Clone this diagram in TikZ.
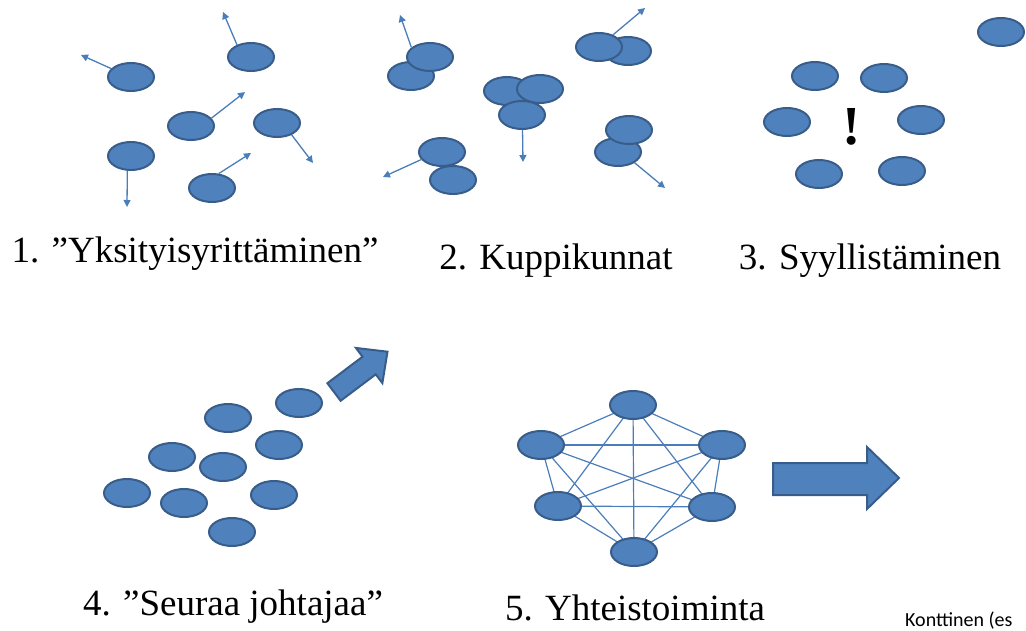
\documentclass[tikz,border=0pt]{standalone}
\usepackage{fontspec}
\IfFontExistsTF{LiberationSerif-Regular.ttf}
  {\newfontfamily\capfont{LiberationSerif-Regular.ttf}[BoldFont=LiberationSerif-Bold.ttf]}
  {\newfontfamily\capfont{Latin Modern Roman}}
\newfontfamily\notefont{Carlito}
\usetikzlibrary{arrows.meta,shapes.geometric,backgrounds}
\definecolor{blobfill}{HTML}{4F81BD}
\definecolor{blobline}{HTML}{385D8A}
\definecolor{wire}{HTML}{4A7EBB}
\tikzset{
  blob/.style={ellipse, draw=blobline, fill=blobfill, line width=2pt,
    minimum width=46pt, minimum height=28pt, inner sep=0pt},
  move/.style={draw=wire, line width=1.3pt, -{Triangle[length=7pt,width=7pt]}},
  link/.style={draw=wire, line width=1.2pt},
  caption/.style={anchor=base, inner sep=0pt, font=\capfont\fontsize{37}{44}\selectfont},
  bigarrow/.style={fill=blobfill, draw=blobline, line width=2pt, line join=miter},
}
\begin{document}
\begin{tikzpicture}[x=1pt, y=-1pt]
\useasboundingbox (0,0) rectangle (1026,631);

% ---- 1. individuals drifting apart
\node[blob] (a1) at (131,77) {};
\node[blob] (a2) at (251,57) {};
\node[blob] (a3) at (191,126) {};
\node[blob] (a4) at (277,123) {};
\node[blob] (a5) at (131,156) {};
\node[blob] (a6) at (212,188) {};
\coordinate (a1t) at (81,55);
\coordinate (a2t) at (223,12);
\coordinate (a3t) at (245,92);
\coordinate (a4t) at (313,163);
\coordinate (a5t) at (127,207);
\coordinate (a6t) at (251,153);
\draw[move] (a1.157) -- (a1t);
\draw[move] (a2.139) -- (a2t);
\draw[move] (a3.21) -- (a3t);
\draw[move] (a4.-39) -- (a4t);
\draw[move] (a5.-104) -- (a5t);
\draw[move] (a6.65) -- (a6t);
\node[caption] (c1) at (195,263) {1. ”Yksityisyrittäminen”};

% ---- 2. small cliques
\node[blob] (b1) at (411,76) {};
\node[blob] (b2) at (430,57) {};
\node[blob] (b4) at (628,51) {};
\node[blob] (b3) at (599,47) {};
\node[blob] (b5) at (507,91) {};
\node[blob] (b6) at (540,89) {};
\node[blob] (b7) at (522,115) {};
\node[blob] (b8) at (442,152) {};
\node[blob] (b9) at (453,180) {};
\node[blob] (b10) at (618,152) {};
\node[blob] (b11) at (629,130) {};
\coordinate (b2t) at (400,15);
\coordinate (b3t) at (645,8);
\coordinate (b7t) at (523,162);
\coordinate (b8t) at (383,177);
\coordinate (b10t) at (665,188);
\draw[move] (b2.153) -- (b2t);
\draw[move] (b3.41) -- (b3t);
\draw[move] (b7.-88) -- (b7t);
\draw[move] (b8.200) -- (b8t);
\draw[move] (b10.-33) -- (b10t);
\node[caption] (c2) at (556,270) {2. Kuppikunnat};

% ---- 3. blaming
\node[blob] (s0) at (1001,32) {};
\node[blob] (s1) at (815,76) {};
\node[blob] (s2) at (884,78) {};
\node[blob] (s3) at (787,122) {};
\node[blob] (s4) at (921,120) {};
\node[blob] (s5) at (819,174) {};
\node[blob] (s6) at (902,171) {};
\node[font=\capfont\fontsize{55}{60}\selectfont\bfseries, inner sep=0pt] (bang) at (852,127) {!};
\node[caption] (c3) at (870,270) {3. Syyllistäminen};

% ---- 4. following the leader
\node[blob] (f1) at (299,403) {};
\node[blob] (f2) at (228,418) {};
\node[blob] (f3) at (279,445) {};
\node[blob] (f4) at (172,457) {};
\node[blob] (f5) at (223,467) {};
\node[blob] (f6) at (127,493) {};
\node[blob] (f7) at (184,503) {};
\node[blob] (f8) at (274,495) {};
\node[blob] (f9) at (232,532) {};
\begin{scope}[shift={(334,392)}, rotate=37]
  \draw[bigarrow] (0,-11) -- (44,-11) -- (44,-22) -- (67,0) -- (44,22) -- (44,11) -- (0,11) -- cycle;
\end{scope}
\node[caption] (c4) at (233,615) {4. ”Seuraa johtajaa”};

% ---- 5. cooperation: everyone linked to everyone
\node[blob] (n1) at (633,405) {};
\node[blob] (n2) at (541,445) {};
\node[blob] (n3) at (722,445) {};
\node[blob] (n4) at (558,506) {};
\node[blob] (n5) at (712,507) {};
\node[blob] (n6) at (634,552) {};
\begin{scope}[on background layer]
  \foreach \u/\v in {n1/n2,n1/n3,n1/n4,n1/n5,n1/n6,
                     n2/n3,n2/n4,n2/n5,n2/n6,
                     n3/n4,n3/n5,n3/n6,
                     n4/n5,n4/n6,n5/n6}
    \draw[link] (\u.center) -- (\v.center);
\end{scope}
\draw[bigarrow] (773,463) -- (867,463) -- (867,447) -- (899,478) -- (867,509) -- (867,495) -- (773,495) -- cycle;
\node[caption] (c5) at (635,620) {5. Yhteistoiminta};

% ---- source note
\node[anchor=base west, inner sep=0pt, font=\notefont\fontsize{20}{24}\selectfont] (src) at (905,626) {Konttinen (es};
\end{tikzpicture}
\end{document}
